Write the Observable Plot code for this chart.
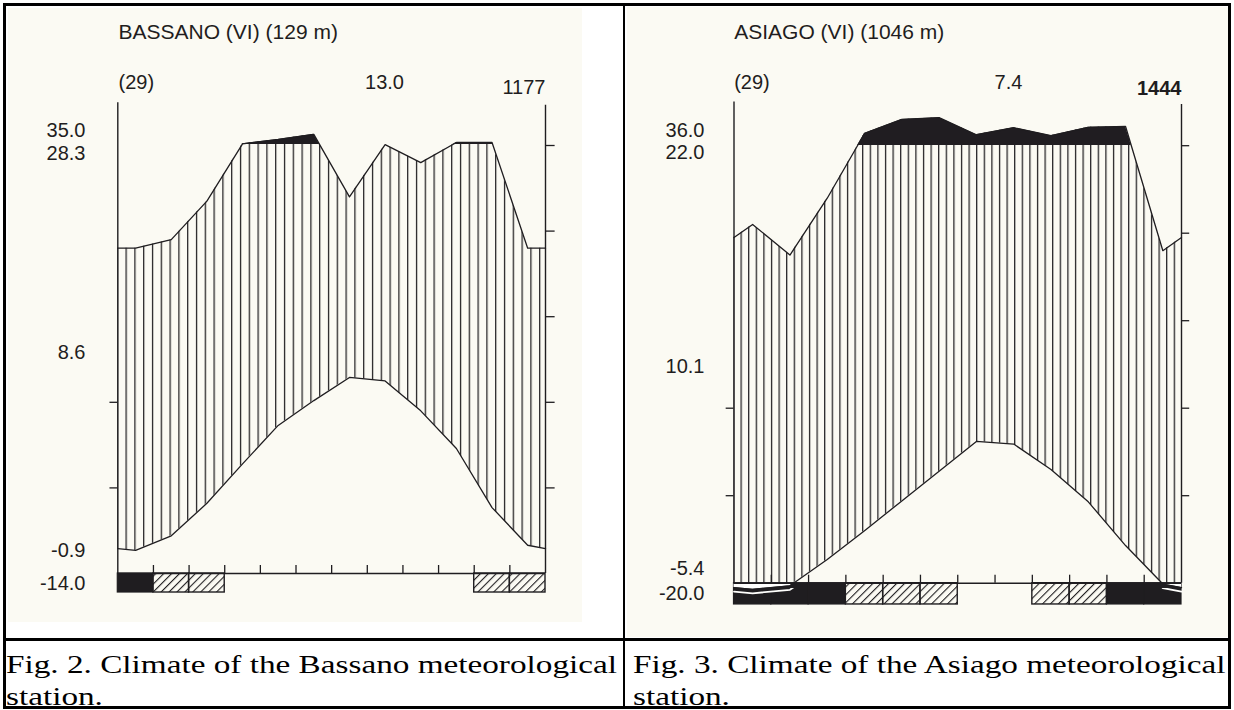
<!DOCTYPE html>
<html><head><meta charset="utf-8">
<script src="https://cdn.jsdelivr.net/npm/d3@7"></script>
<script src="https://cdn.jsdelivr.net/npm/@observablehq/plot@0.6"></script>
<style>
html,body{margin:0;padding:0;background:#fff;}
#page{position:relative;width:1234px;height:710px;overflow:hidden;background:#fff;}
.b{position:absolute;background:#000;}
.scan{position:absolute;background:#fbfaf3;}
.chart{position:absolute;top:0;}
.cap{position:absolute;font-family:"Liberation Serif","Times New Roman",serif;font-size:25px;line-height:32px;color:#000;white-space:nowrap;transform-origin:0 0;}
</style></head><body>
<div id="page">
  <div class="scan" style="left:8px;top:8px;width:574px;height:614px"></div>
  <div class="scan" style="left:627px;top:7px;width:601px;height:630px"></div>
  <div id="c1" class="chart" style="left:0px;width:620px;height:630px"></div>
  <div id="c2" class="chart" style="left:624px;width:606px;height:630px"></div>
  <div id="cap1" class="cap" style="left:6px;top:649px"><span id="l1">Fig. 2. Climate of the Bassano meteorological</span><br>station.</div>
  <div id="cap2" class="cap" style="left:633px;top:649px">Fig. 3. Climate of the Asiago meteorological<br>station.</div>
  <div class="b" style="left:3px;top:3px;width:1228px;height:3px"></div>
  <div class="b" style="left:3px;top:706px;width:1228px;height:3px"></div>
  <div class="b" style="left:3px;top:3px;width:3px;height:706px"></div>
  <div class="b" style="left:1228px;top:3px;width:3px;height:706px"></div>
  <div class="b" style="left:623px;top:3px;width:2px;height:706px"></div>
  <div class="b" style="left:3px;top:638px;width:1228px;height:3px"></div>
</div>
<script>
// ---------- data ----------
const months = ["Jan","Feb","Mar","Apr","May","Jun","Jul","Aug","Sep","Oct","Nov","Dec"];

const bassanoTemp = [2.7, 4.4, 8.2, 12.8, 17.3, 20.2, 22.9, 22.5, 19.0, 14.6, 7.7, 3.3];
const bassanoPrec = [76, 78, 87, 104, 114, 126, 88, 102, 96, 107, 107, 76];
const bassanoYearEdge = [2.9, 76];            // temperature, precipitation at the Dec/Jan border
const bassanoFrost = ["black","hatch","hatch","","","","","","","","hatch","hatch"];
const bassanoText = ["BASSANO (VI) (129 m)", "(29)", "13.0", "1177", "35.0", "28.3", "8.6", "-0.9", "-14.0"];

const asiagoTemp = [-0.7, -0.3, 2.7, 6.0, 9.4, 12.8, 16.2, 15.9, 13.0, 9.3, 4.3, -0.1];
const asiagoPrec = [82, 75, 88, 128, 160, 164, 125, 141, 123, 142, 144, 76];
const asiagoYearEdge = [-0.5, 79];
const asiagoFrost = ["black","black","black","hatch","hatch","hatch","","","hatch","hatch","black","black"];
const asiagoText = ["ASIAGO (VI) (1046 m)", "(29)", "7.4", "1444", "36.0", "22.0", "10.1", "-5.4", "-20.0"];

const tempTicks = [10, 20];
const precTicks = [20, 40, 60, 80, 100];

// ---------- layout (styles / positions) ----------
const FONT = "'Liberation Sans', Arial, sans-serif";
const INK = "#1f1d20";
const INK_WET = "#201d21";      // perhumid fill (distinct value used to find the layer)
const GAP = "#fffffe";          // frost gap fill
const GAPLINE = "#fffffd";      // frost gap shadow line
const layoutL = {id: "L", W: 620, H: 630, x0: 117.3, x1: 545, y0: 573, ppu: 8.56, hatch: 8.8, bar: 2.22, tick: 0.22, tickR: 0.27,
  labels: [[0.7,-70.5,"start",21],[0.7,-20.2,"start",20],[266.7,-20.2,"middle",20],[427.7,-14.9,"end",20],
           [-32.3,27.8,"end",20],[-32.3,51.1,"end",20],[-32.3,249.8,"end",20],[-32.3,447.8,"end",20],[-32.3,481.1,"end",20]]};
const layoutR = {id: "R", W: 606, H: 630, x0: 109.5, x1: 557, y0: 582.7, ppu: 8.75, hatch: 7.6, bar: 2.43, tick: 0.21, tickR: 0.22,
  labels: [[0.2,-69.75,"start",21],[0.2,-19.75,"start",20],[274.5,-19.75,"middle",20],[447.5,-13.15,"end",20,"bold"],
           [-29.5,28.55,"end",20],[-29.5,50.25,"end",20],[-29.5,264.55,"end",20],[-29.5,466.85,"end",20],[-29.5,491.85,"end",20]]};

const comp = p => p <= 100 ? p / 2 : 50 + (p - 100) / 20;   // Walter-Lieth precipitation scale

function climate(temp, prec, edge, frost, texts, L) {
  const rows = [{x: 0, t: edge[0], p: comp(edge[1])}]
    .concat(temp.map((t, i) => ({x: i + 0.5, t, p: comp(prec[i])})))
    .concat([{x: 12, t: edge[0], p: comp(edge[1])}]);
  const frostRows = frost.map((k, i) => ({i, k}));
  const yTop = 55;
  const marks = [
    Plot.areaY(rows, {x: "x", y1: "t", y2: "p", fill: `url(#vh-${L.id})`}),
    Plot.areaY(rows, {x: "x", y1: 50, y2: "p", fill: INK_WET}),
    Plot.rect(frostRows.filter(d => d.k === "black"), {x1: d => d.i, x2: d => d.i + 1, y1: 0, y2: -L.bar, fill: INK, stroke: INK, strokeWidth: 1.2}),
    Plot.rect(frostRows.filter(d => d.k === "hatch"), {x1: d => d.i, x2: d => d.i + 1, y1: 0, y2: -L.bar, fill: `url(#dh-${L.id})`, stroke: INK, strokeWidth: 1.4}),
    Plot.areaY(rows, {x: "x", y1: 0, y2: "t", fill: GAP}),
    Plot.line(rows, {x: "x", y: "t", stroke: GAPLINE, strokeWidth: 1.8, dy: 4}),
    Plot.ruleY([0], {x1: 0, x2: 12, stroke: INK, strokeWidth: 1.4}),
    Plot.ruleX([0], {y1: 0, y2: yTop, stroke: INK, strokeWidth: 1.4}),
    Plot.ruleX([12], {y1: 0, y2: yTop - 0.3, stroke: INK, strokeWidth: 1.4}),
    Plot.ruleX(d3.range(1, 12), {y1: 0, y2: 8 / L.ppu, stroke: INK, strokeWidth: 1.3}),
    Plot.ruleY(tempTicks, {x1: -L.tick, x2: 0, stroke: INK, strokeWidth: 1.3}),
    Plot.ruleY(precTicks.map(comp), {x1: 12, x2: 12 + L.tickR, stroke: INK, strokeWidth: 1.3}),
    Plot.line(rows, {x: "x", y: "p", stroke: INK, strokeWidth: 1.3}),
    Plot.line(rows, {x: "x", y: "t", stroke: INK, strokeWidth: 1.3}),
    ...texts.map((s, k) => Plot.text([s], {text: d => d, frameAnchor: "top-left",
      dx: L.labels[k][0], dy: L.labels[k][1], textAnchor: L.labels[k][2], lineAnchor: "middle",
      fontSize: L.labels[k][3], fontWeight: L.labels[k][4] || "normal", fill: INK, fontFamily: FONT}))
  ];
  const svg = Plot.plot({
    width: L.W, height: L.H,
    marginLeft: L.x0, marginRight: L.W - L.x1,
    marginTop: L.y0 - 55 * L.ppu, marginBottom: L.H - (L.y0 + 3 * L.ppu),
    x: {domain: [0, 12], range: [L.x0, L.x1], axis: null},
    y: {domain: [-3, 55], range: [L.y0 + 3 * L.ppu, L.y0 - 55 * L.ppu], axis: null},
    style: {background: "transparent", overflow: "visible", maxWidth: "none", fontFamily: FONT},
    marks
  });
  const ys = svg.scale("y");
  const yz = ys.apply(0), y50 = ys.apply(50);
  const ns = "http://www.w3.org/2000/svg";
  const defs = document.createElementNS(ns, "defs");
  defs.innerHTML =
    `<pattern id="vh-${L.id}" patternUnits="userSpaceOnUse" x="${L.x0 - 0.6}" y="0" width="${L.hatch}" height="20">` +
      `<rect x="0" y="0" width="1.25" height="20" fill="${INK}"/></pattern>` +
    `<pattern id="dh-${L.id}" patternUnits="userSpaceOnUse" width="5.6" height="5.6" patternTransform="rotate(45)">` +
      `<rect x="0" y="0" width="1.1" height="5.6" fill="${INK}"/></pattern>` +
    `<clipPath id="ab-${L.id}"><rect x="0" y="0" width="${L.W}" height="${Math.floor(y50)}"/></clipPath>` +
    `<clipPath id="be-${L.id}"><rect x="0" y="${yz + 0.8}" width="${L.W}" height="${L.H - yz}"/></clipPath>`;
  svg.insertBefore(defs, svg.firstChild);
  const set = (sel, clip) => svg.querySelectorAll(sel).forEach(g => g.setAttribute("clip-path", `url(#${clip})`));
  set(`g[fill="${INK_WET}"]`, `ab-${L.id}`);
  set(`g[fill="${GAP}"]`, `be-${L.id}`);
  set(`g[stroke="${GAPLINE}"]`, `be-${L.id}`);
  return svg;
}

document.getElementById("c1").appendChild(climate(bassanoTemp, bassanoPrec, bassanoYearEdge, bassanoFrost, bassanoText, layoutL));
document.getElementById("c2").appendChild(climate(asiagoTemp, asiagoPrec, asiagoYearEdge, asiagoFrost, asiagoText, layoutR));

// caption width fit
const w = document.getElementById("l1").getBoundingClientRect().width;
const s = 611 / w;
document.getElementById("cap1").style.transform = `scaleX(${s})`;
document.getElementById("cap2").style.transform = `scaleX(${s})`;
</script>
</body></html>
